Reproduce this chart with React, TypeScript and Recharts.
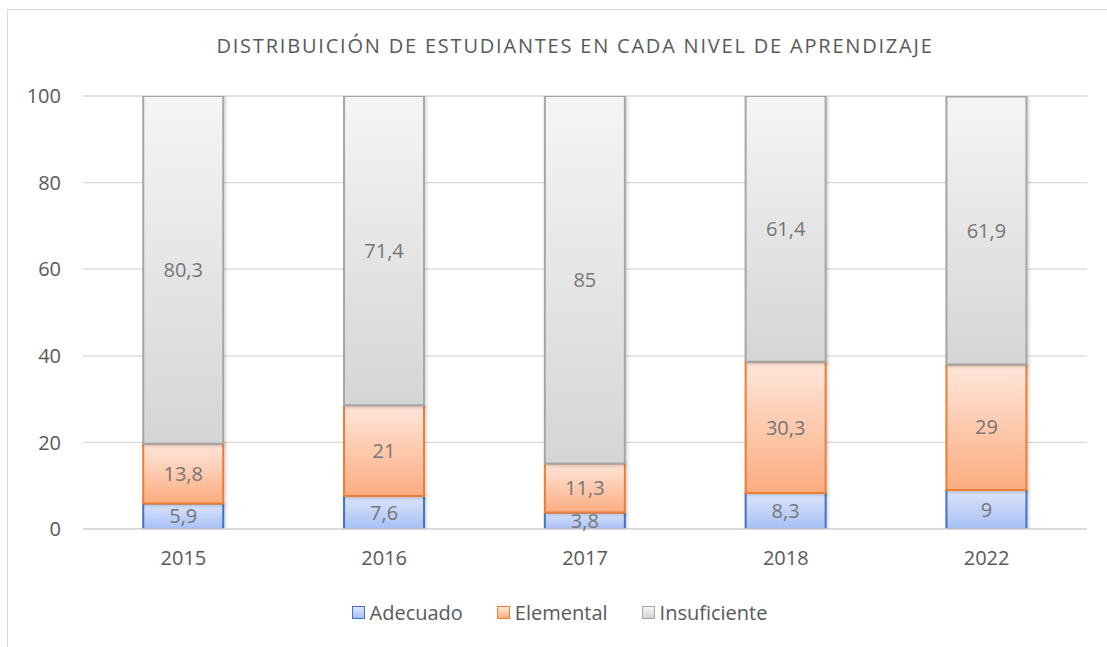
import { Bar, BarChart, CartesianGrid, LabelList, XAxis, YAxis } from "recharts"

const years = ["2015", "2016", "2017", "2018", "2022"]
const adecuado = [5.9, 7.6, 3.8, 8.3, 9]
const elemental = [13.8, 21, 11.3, 30.3, 29]
const insuficiente = [80.3, 71.4, 85, 61.4, 61.9]
const yTicks = [0, 20, 40, 60, 80, 100]

const data = years.map((year, i) => ({
  year,
  Adecuado: adecuado[i],
  Elemental: elemental[i],
  Insuficiente: insuficiente[i],
}))

const SERIES = [
  { key: "Adecuado", stroke: "#4472c4", top: "#dde6fb", bottom: "#a6bff5" },
  { key: "Elemental", stroke: "#ed7d31", top: "#ffe6db", bottom: "#fbac80" },
  { key: "Insuficiente", stroke: "#a5a5a5", top: "#f5f5f5", bottom: "#d5d5d5" },
]

const FONT = "'Open Sans', sans-serif"
const TEXT = "#595959"

const fmt = (v: any) => String(v).replace(".", ",")

function LegendBox() {
  return (
    <div
      style={{
        position: "absolute",
        top: 599,
        left: 0,
        width: 1107,
        display: "flex",
        justifyContent: "center",
        gap: 34,
        fontFamily: FONT,
        fontSize: 20,
        color: TEXT,
        paddingLeft: 12,
        boxSizing: "border-box",
      }}
    >
      {SERIES.map((s) => (
        <div key={s.key} style={{ display: "flex", alignItems: "center", gap: 5 }}>
          <span
            style={{
              width: 11,
              height: 11,
              border: `1.5px solid ${s.stroke}`,
              background: `linear-gradient(${s.top}, ${s.bottom})`,
              display: "inline-block",
            }}
          />
          <span>{s.key}</span>
        </div>
      ))}
    </div>
  )
}

export default function App() {
  return (
    <div style={{ position: "absolute", left: 0, top: 0, width: 1107, height: 647, overflow: "hidden", background: "#fff" }}>
      <div style={{ position: "absolute", left: 7, top: 9, width: 1120, height: 660, border: "1px solid #d9d9d9" }} />
      <div
        style={{
          position: "absolute",
          top: 32,
          left: 0,
          width: 1150,
          textAlign: "center",
          fontFamily: FONT,
          fontSize: 20,
          color: TEXT,
          letterSpacing: 1.8,
        }}
      >
        DISTRIBUICIÓN DE ESTUDIANTES EN CADA NIVEL DE APRENDIZAJE
      </div>
      <BarChart width={1107} height={647} data={data} margin={{ top: 96, right: 20, bottom: 88, left: 23 }} barCategoryGap="30%">
        <defs>
          {SERIES.map((s) => (
            <linearGradient key={s.key} id={`g-${s.key}`} x1="0" y1="0" x2="0" y2="1">
              <stop offset="0%" stopColor={s.top} />
              <stop offset="100%" stopColor={s.bottom} />
            </linearGradient>
          ))}
          <filter id="shadow" x="-10%" y="-10%" width="130%" height="130%">
            <feDropShadow dx="1.5" dy="1.5" stdDeviation="1.5" floodColor="#000" floodOpacity="0.18" />
          </filter>
        </defs>
        <CartesianGrid vertical={false} stroke="#d9d9d9" strokeWidth={1.3} />
        <XAxis
          dataKey="year"
          height={30}
          axisLine={{ stroke: "#d9d9d9", strokeWidth: 1.3 }}
          tickLine={false}
          tick={{ fill: TEXT, fontSize: 20, fontFamily: FONT }}
          tickMargin={16}
        />
        <YAxis
          width={60}
          domain={[0, 100]}
          ticks={yTicks}
          allowDataOverflow
          axisLine={false}
          tickLine={false}
          tick={{ fill: TEXT, fontSize: 20, fontFamily: FONT }}
          tickMargin={16}
        />
        {SERIES.map((s) => (
          <Bar
            key={s.key}
            dataKey={s.key}
            stackId="a"
            fill={`url(#g-${s.key})`}
            stroke={s.stroke}
            strokeWidth={2}
            filter="url(#shadow)"
            isAnimationActive={false}
          >
            <LabelList
              dataKey={s.key}
              position="center"
              formatter={fmt}
              style={{ fill: "#767676", fontSize: 20, fontFamily: FONT }}
            />
          </Bar>
        ))}
      </BarChart>
      <LegendBox />
    </div>
  )
}
